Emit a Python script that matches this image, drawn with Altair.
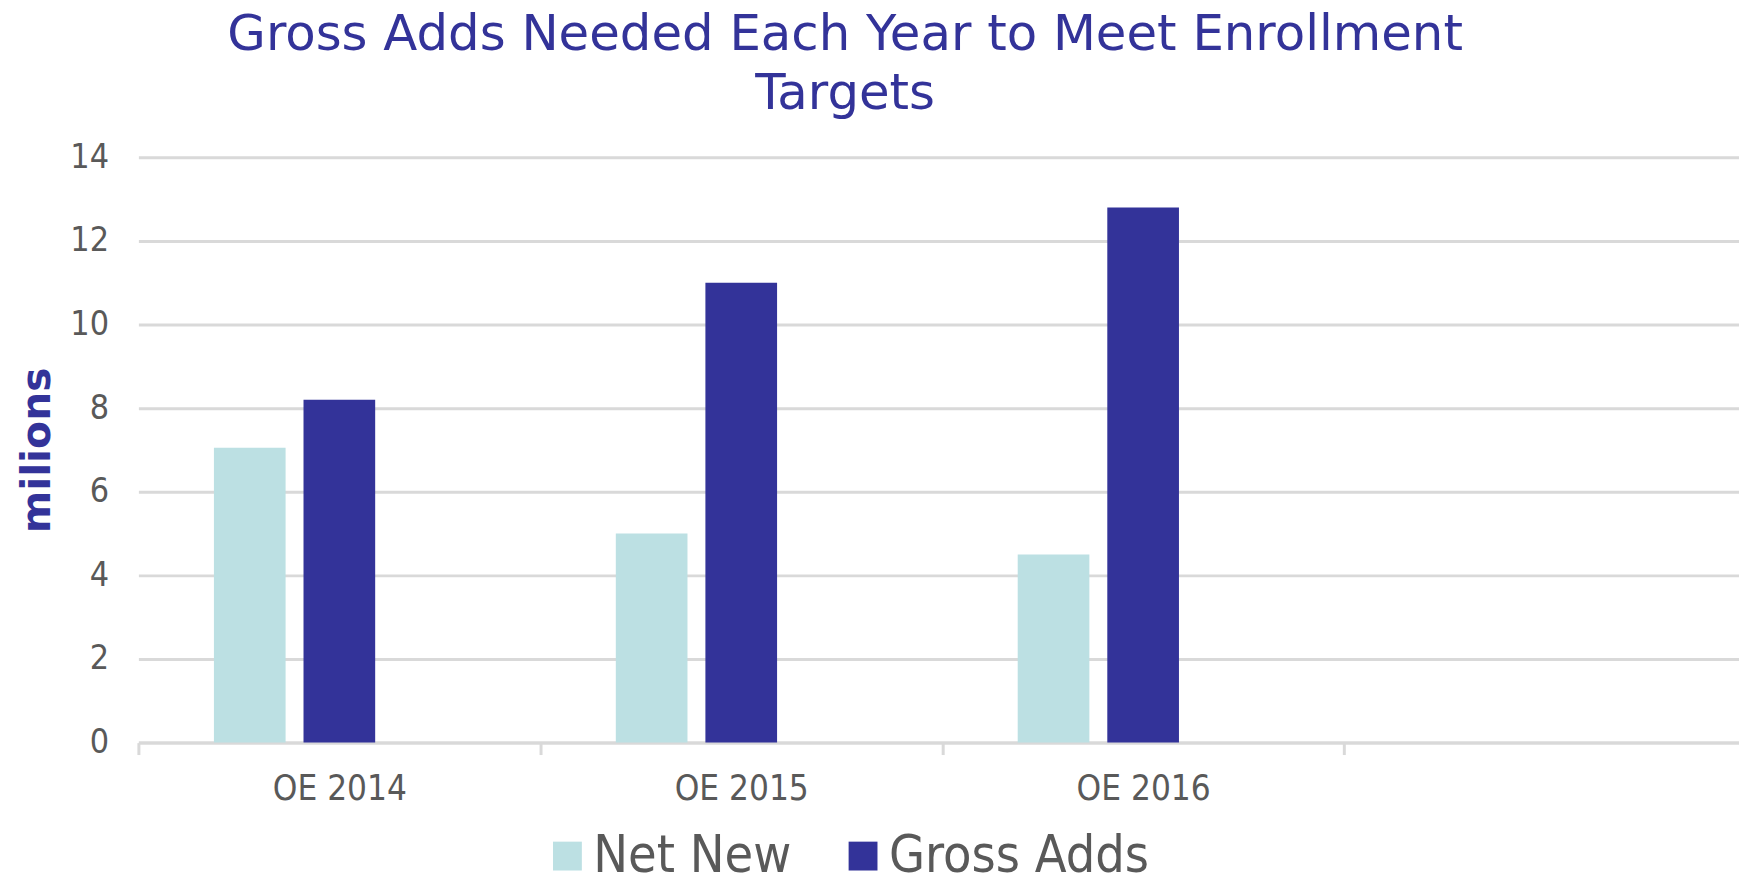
import altair as alt
import pandas as pd

categories = ["OE 2014", "OE 2015", "OE 2016"]
axis_slots = ["OE 2014", "OE 2015", "OE 2016", " "]
net_new = [7.05, 5.0, 4.5]
gross_adds = [8.2, 11.0, 12.8]
series = ["Net New", "Gross Adds"]
offset_slots = ["Net New", "Gross Adds", "(none)"]
colors = ["#bce0e3", "#333399"]
y_ticks = [0, 2, 4, 6, 8, 10, 12, 14]

rows = []
for i, c in enumerate(categories):
    rows.append({"year": c, "series": "Net New", "value": net_new[i]})
    rows.append({"year": c, "series": "Gross Adds", "value": gross_adds[i]})
df = pd.DataFrame(rows)

COND = "DejaVu Sans Condensed, DejaVu Sans"
WIDE = "DejaVu Sans"

chart = alt.Chart(df).mark_bar().encode(
    x=alt.X("year:N", scale=alt.Scale(domain=axis_slots, paddingInner=0, paddingOuter=0),
            axis=alt.Axis(title=None, labelAngle=0, tickBand="extent", grid=False,
                          domainColor="#d9d9d9", domainWidth=3, tickColor="#d9d9d9",
                          tickWidth=3, tickSize=12, labelFontSize=35, labelColor="#595959",
                          labelFont=COND, labelPadding=17)),
    xOffset=alt.XOffset("series:N", scale=alt.Scale(domain=offset_slots, paddingInner=0.2,
                                                    paddingOuter=0.843)),
    y=alt.Y("value:Q", scale=alt.Scale(domain=[0, 14], nice=False),
            axis=alt.Axis(title="milions", values=y_ticks, grid=True, gridColor="#d9d9d9",
                          gridWidth=3, domain=False, ticks=False, labelPadding=30,
                          labelFontSize=34, labelColor="#595959", labelFont=COND,
                          titleFont=WIDE, titleFontSize=41, titleFontWeight="bold",
                          titleColor="#333399", titlePadding=11)),
    color=alt.Color("series:N", scale=alt.Scale(domain=series, range=colors),
                    legend=alt.Legend(title=None, orient="none", legendX=405, legendY=676,
                                      direction="horizontal", symbolType="square",
                                      symbolSize=841, symbolStrokeWidth=0, labelFontSize=52,
                                      labelColor="#595959", labelFont=COND, labelOffset=0,
                                      labelLimit=600, columnPadding=45)),
).properties(
    width=1615,
    height=588,
    title=alt.TitleParams(
        text=["Gross Adds Needed Each Year to Meet Enrollment", "Targets"],
        font=WIDE, fontSize=50, fontWeight="normal", color="#333399",
        anchor="middle", dx=-97.5, offset=22, lineHeight=59,
    ),
    padding={"left": 131, "top": 148, "right": -7, "bottom": 131},
    autosize=alt.AutoSizeParams(type="none"),
).configure_view(stroke=None)

chart.save("out.html", embed_options={"renderer": "svg", "actions": False})
